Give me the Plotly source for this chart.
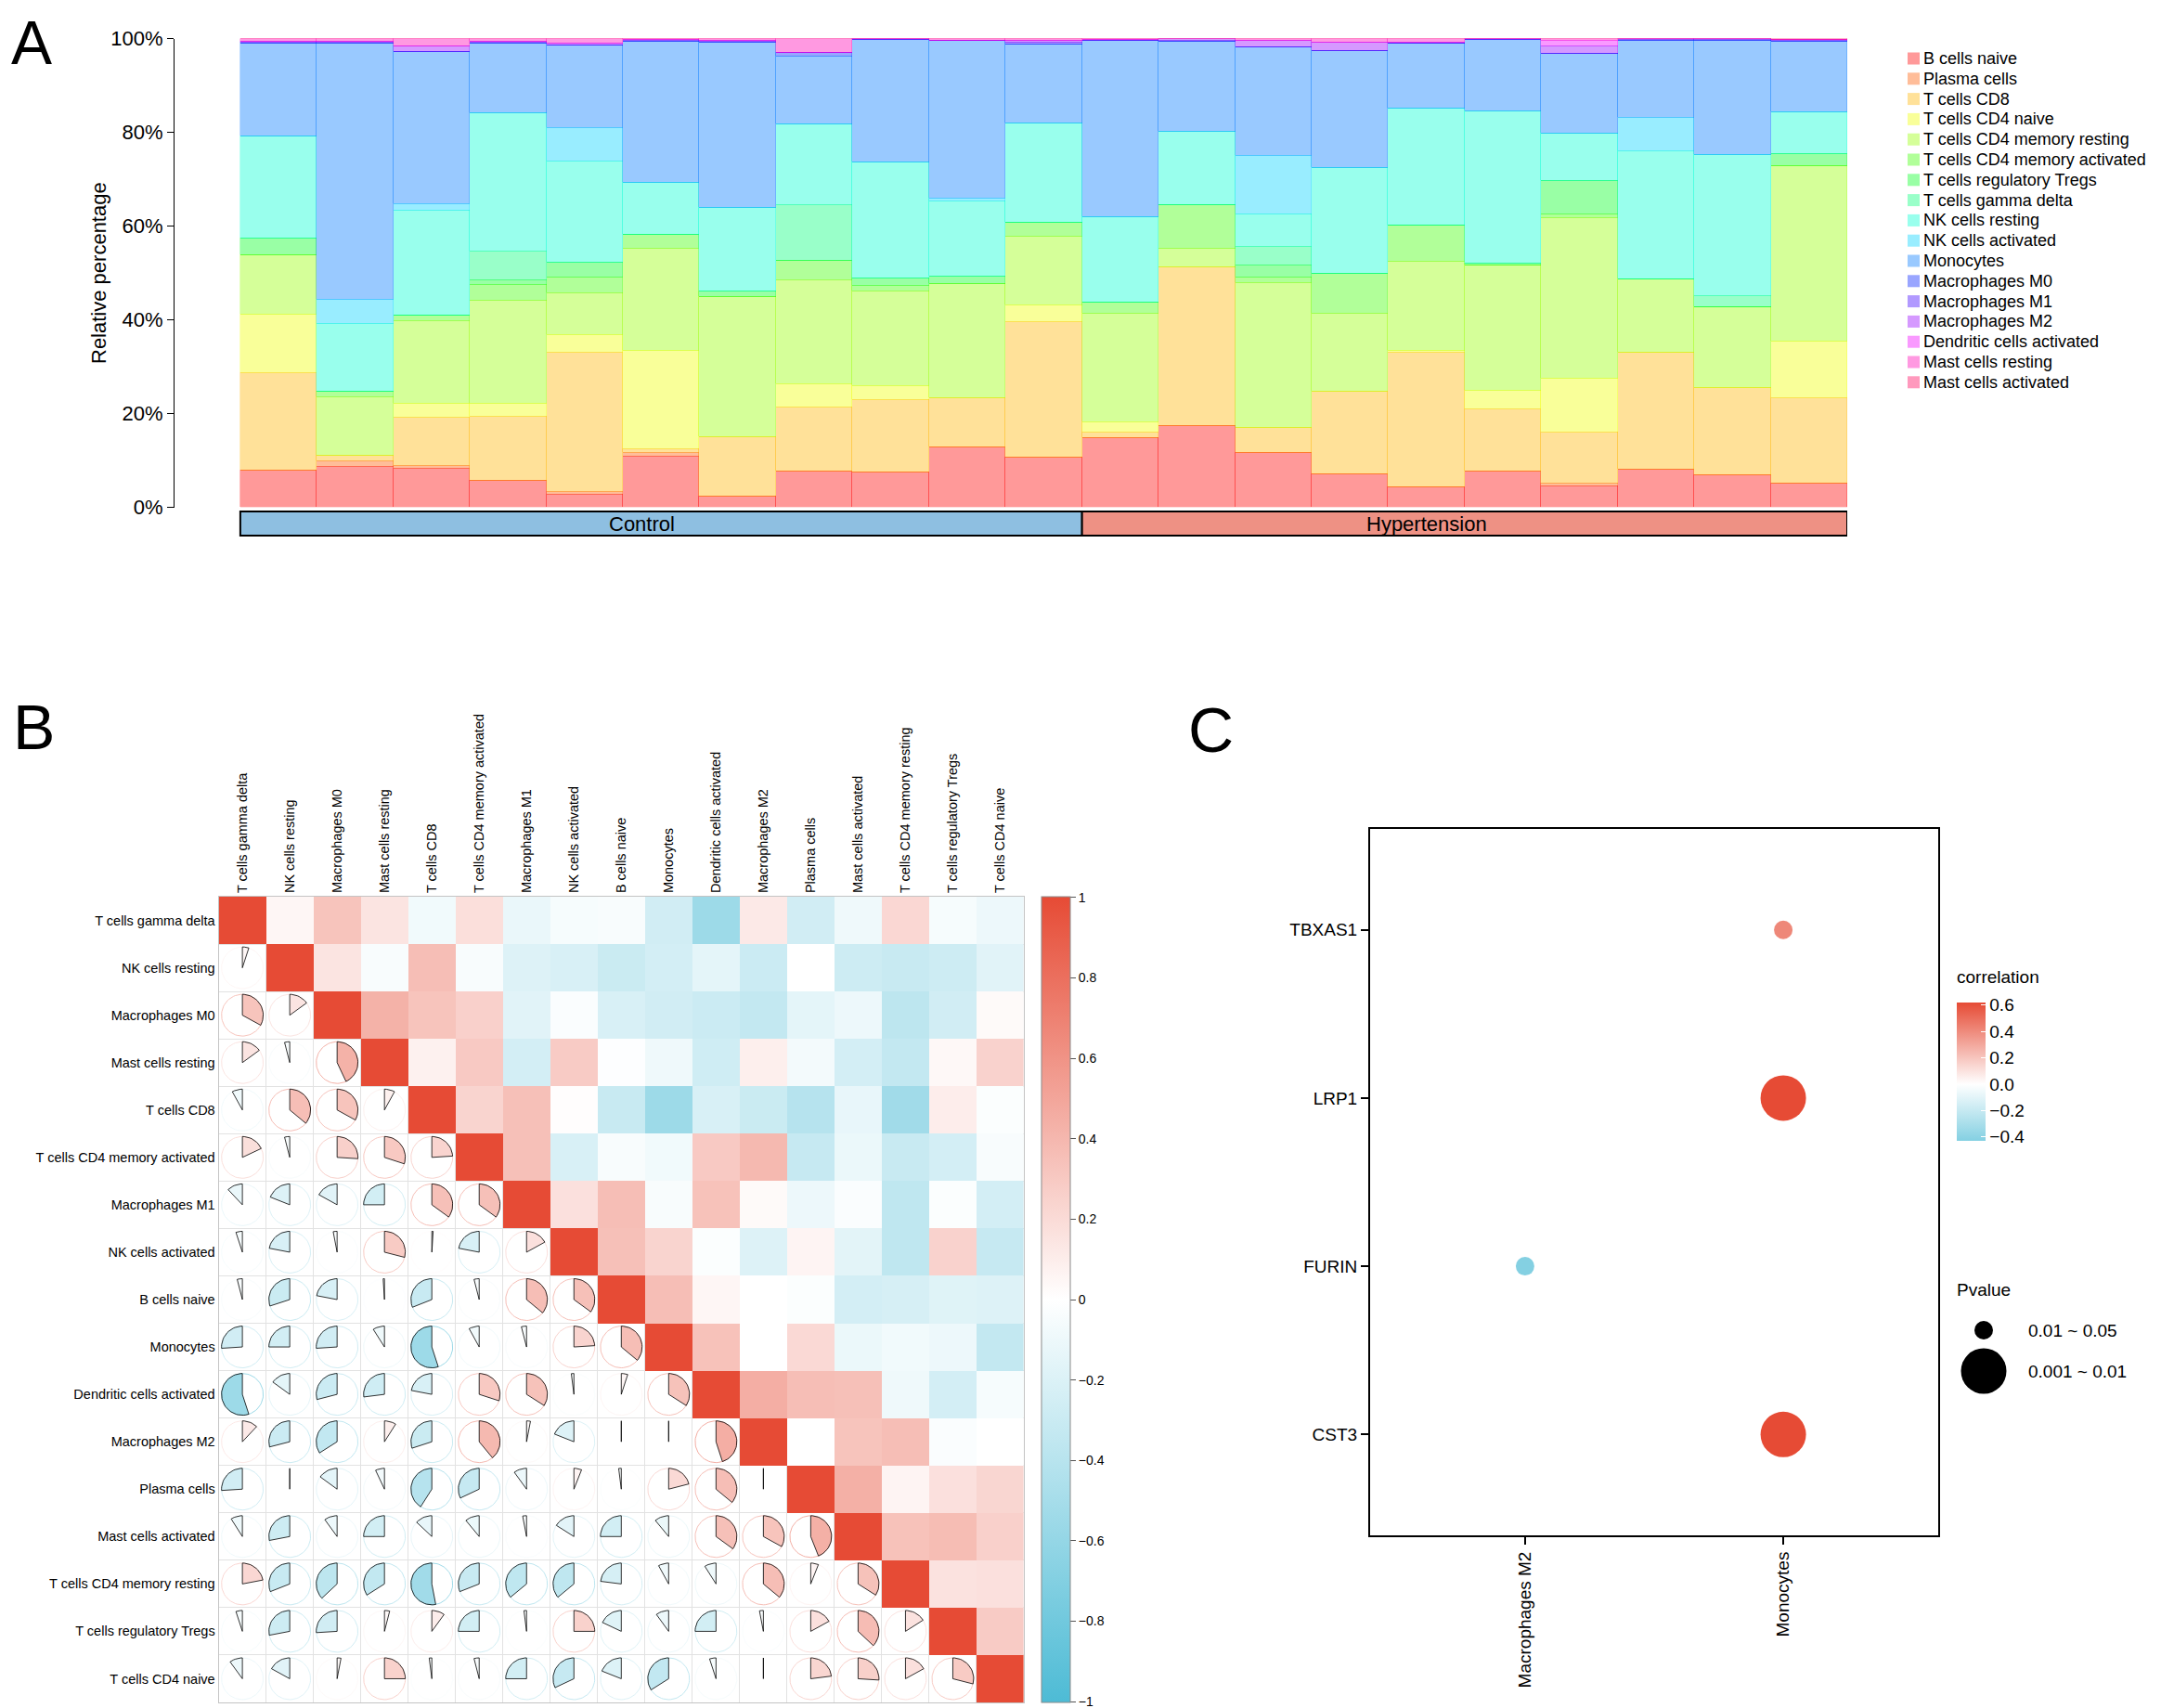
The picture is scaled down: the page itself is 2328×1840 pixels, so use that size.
import math

import plotly.graph_objects as go

# the page puts the figure 8px in from the top-left corner, so the figure is drawn
# 8px smaller and every position below is given in window pixels
OFF = 8
W, H = 2328 - OFF, 1840 - OFF
FONT = "Liberation Sans, Arial, sans-serif"
RED = "#E64B35"
BLUE = "#4DBBD5"

# ---------------- panel A: immune cell fractions per sample (%) ----------------
samples = ["C1", "C2", "C3", "C4", "C5", "C6", "C7", "C8", "C9", "C10", "C11",
           "H1", "H2", "H3", "H4", "H5", "H6", "H7", "H8", "H9", "H10"]
groups = ["Control"] * 11 + ["Hypertension"] * 10
group_colors = {"Control": "#8EBFE1", "Hypertension": "#EE9184"}
group_label_x = {"Control": 691, "Hypertension": 1537}

cell_types = ["B cells naive", "Plasma cells", "T cells CD8", "T cells CD4 naive",
              "T cells CD4 memory resting", "T cells CD4 memory activated",
              "T cells regulatory Tregs", "T cells gamma delta", "NK cells resting",
              "NK cells activated", "Monocytes", "Macrophages M0", "Macrophages M1",
              "Macrophages M2", "Dendritic cells activated", "Mast cells resting",
              "Mast cells activated"]
cell_colors = ["#FF9999", "#FFBD99", "#FFE199", "#F9FF99", "#D5FF99", "#B1FF99",
               "#99FFA5", "#99FFC9", "#99FFED", "#99EDFF", "#99C9FF", "#99A5FF",
               "#B199FF", "#D599FF", "#F999FF", "#FF99E1", "#FF99BD"]

b_cells_naive = [7.9, 8.7, 8.4, 5.7, 2.7, 10.9, 2.3, 7.7, 7.6, 12.8, 10.7,
                 14.9, 17.4, 11.6, 7.2, 4.4, 7.8, 4.6, 8.2, 6.9, 5.2]
plasma_cells = [0, 1.2, 0.5, 0, 0.6, 0.8, 0, 0, 0, 0, 0,
                0, 0, 0, 0, 0, 0, 0.6, 0, 0, 0]
t_cells_cd8 = [20.9, 1.2, 10.3, 13.8, 29.7, 0.7, 12.8, 13.6, 15.4, 10.5, 28.9,
               1.2, 33.8, 5.5, 17.6, 28.6, 13.2, 10.9, 24.9, 18.7, 18.1]
t_cd4_naive = [12.4, 0, 3.0, 2.6, 3.8, 21.1, 0, 5.1, 3.0, 0, 3.6,
               2.2, 0, 0, 0, 0.5, 4.0, 11.4, 0, 0, 12.2]
t_cd4_mem_resting = [12.7, 12.5, 17.7, 22.1, 8.9, 21.7, 29.8, 22.1, 20.2, 24.4, 14.6,
                     23.1, 4.1, 30.8, 16.6, 19.0, 26.7, 34.3, 15.6, 17.1, 37.5]
t_cd4_mem_activated = [0, 1.2, 1.1, 3.3, 3.4, 3.1, 0, 4.2, 1.2, 0, 3.0,
                       2.4, 9.3, 1.2, 8.6, 7.7, 0, 0.8, 0, 0, 0]
t_tregs = [3.5, 0, 0, 1.0, 3.2, 0, 1.3, 0, 1.5, 1.6, 0,
           0, 0, 2.6, 0, 0, 0.4, 7.1, 0, 0, 2.5]
t_gamma_delta = [0, 0, 0, 6.1, 0, 0, 0, 11.9, 0, 0, 0,
                 0, 0, 3.9, 0, 0, 0, 0, 0, 2.5, 0]
nk_resting = [21.9, 14.4, 22.3, 29.5, 21.5, 11.0, 17.7, 17.1, 24.7, 16.0, 21.1,
              18.1, 15.6, 6.9, 22.4, 24.9, 32.4, 10.1, 27.4, 30.0, 9.0]
nk_activated = [0, 5.1, 1.4, 0, 7.1, 0, 0, 0, 0, 0.6, 0,
                0, 0, 12.5, 0, 0, 0, 0, 7.0, 0, 0]
monocytes = [19.8, 54.8, 32.6, 15.0, 17.8, 30.2, 35.4, 14.5, 26.3, 33.7, 17.0,
             37.7, 19.3, 23.3, 25.1, 14.0, 15.4, 17.1, 16.6, 24.5, 15.1]
macrophages_m0 = [0, 0, 0, 0, 0, 0, 0, 0.8, 0, 0, 0,
                  0, 0, 0, 0, 0, 0, 0, 0, 0, 0]
macrophages_m1 = [0.2, 0.1, 0, 0.2, 0, 0.1, 0.2, 0, 0, 0, 0.3,
                  0, 0.2, 0, 0, 0, 0, 0, 0.1, 0.1, 0.1]
macrophages_m2 = [0.2, 0.2, 1.1, 0.2, 0.3, 0.2, 0.2, 0, 0.1, 0, 0.4,
                  0.2, 0.3, 1.3, 1.8, 0.2, 0.1, 1.5, 0.2, 0.2, 0.3]
dc_activated = [0, 0, 0, 0, 0, 0, 0, 0, 0, 0, 0,
                0, 0, 0, 0, 0, 0, 1.2, 0, 0, 0]
mast_resting = [0.5, 0.6, 1.6, 0.5, 1.0, 0.2, 0.3, 3.0, 0, 0.4, 0.4,
                0.2, 0, 0.4, 0.7, 0.7, 0, 0.4, 0, 0, 0]
mast_activated = [0, 0, 0, 0, 0, 0, 0, 0, 0, 0, 0,
                  0, 0, 0, 0, 0, 0, 0, 0, 0, 0.1]

fractions = [b_cells_naive, plasma_cells, t_cells_cd8, t_cd4_naive, t_cd4_mem_resting,
             t_cd4_mem_activated, t_tregs, t_gamma_delta, nk_resting, nk_activated,
             monocytes, macrophages_m0, macrophages_m1, macrophages_m2, dc_activated,
             mast_resting, mast_activated]
pct_ticks = [0, 20, 40, 60, 80, 100]
pct_labels = ["0%", "20%", "40%", "60%", "80%", "100%"]

# ---------------- panel B: correlation between immune cells ----------------
corr_names = ["T cells gamma delta", "NK cells resting", "Macrophages M0",
              "Mast cells resting", "T cells CD8", "T cells CD4 memory activated",
              "Macrophages M1", "NK cells activated", "B cells naive", "Monocytes",
              "Dendritic cells activated", "Macrophages M2", "Plasma cells",
              "Mast cells activated", "T cells CD4 memory resting",
              "T cells regulatory Tregs", "T cells CD4 naive"]
corr_lower = [
    [],
    [0.05],
    [0.33, 0.15],
    [0.15, -0.04, 0.43],
    [-0.08, 0.36, 0.33, 0.08],
    [0.18, -0.04, 0.26, 0.30, 0.24],
    [-0.12, -0.19, -0.17, -0.25, 0.35, 0.35],
    [-0.05, -0.22, -0.03, 0.29, 0.01, -0.22, 0.17],
    [-0.04, -0.30, -0.22, -0.01, -0.31, -0.04, 0.36, 0.35],
    [-0.26, -0.25, -0.26, -0.09, -0.55, -0.08, -0.04, 0.24, 0.36],
    [-0.55, -0.15, -0.29, -0.27, -0.22, 0.30, 0.34, -0.02, 0.05, 0.34],
    [0.12, -0.29, -0.34, 0.09, -0.30, 0.39, 0.03, -0.19, 0.0, 0.0, 0.45],
    [-0.26, 0.0, -0.15, -0.07, -0.41, -0.32, -0.10, 0.06, -0.02, 0.21, 0.36, 0.0],
    [-0.09, -0.28, -0.10, -0.25, -0.13, -0.11, -0.03, -0.16, -0.25, -0.11, 0.35, 0.33, 0.44],
    [0.22, -0.31, -0.37, -0.34, -0.53, -0.31, -0.36, -0.36, -0.23, -0.08, -0.09, 0.36, 0.06, 0.34],
    [-0.05, -0.28, -0.26, 0.04, 0.10, -0.25, -0.02, 0.25, -0.18, -0.10, -0.25, -0.03, 0.17, 0.37, 0.16],
    [-0.10, -0.17, 0.03, 0.25, -0.02, -0.04, -0.25, -0.32, -0.19, -0.34, -0.05, 0.0, 0.23, 0.26, 0.17, 0.29],
]
corr_ticks = [-1, -0.8, -0.6, -0.4, -0.2, 0, 0.2, 0.4, 0.6, 0.8, 1]

# ---------------- panel C: gene / immune cell correlation ----------------
c_genes = ["CST3", "FURIN", "LRP1", "TBXAS1"]
c_cells = ["Macrophages M2", "Monocytes"]
c_point_gene = ["TBXAS1", "LRP1", "FURIN", "CST3"]
c_point_cell = ["Monocytes", "Monocytes", "Macrophages M2", "Monocytes"]
c_point_cor = [0.41, 0.62, -0.43, 0.62]
c_point_p = ["0.01 ~ 0.05", "0.001 ~ 0.01", "0.01 ~ 0.05", "0.001 ~ 0.01"]
c_ticks = [-0.4, -0.2, 0, 0.2, 0.4, 0.6]
c_tick_labels = ["\u22120.4", "\u22120.2", "0.0", "0.2", "0.4", "0.6"]
p_levels = ["0.01 ~ 0.05", "0.001 ~ 0.01"]
p_sizes = {"0.01 ~ 0.05": 20, "0.001 ~ 0.01": 49}


def px(x):
    return (x - OFF) / W


def py(y):
    return 1 - (y - OFF) / H


def hex_rgb(c):
    return tuple(int(c[k:k + 2], 16) for k in (1, 3, 5))


def blend(c1, c2, t):
    a, b = hex_rgb(c1), hex_rgb(c2)
    return "rgb(%d,%d,%d)" % tuple(round(a[k] + (b[k] - a[k]) * t) for k in range(3))


def corr_color(r):
    return blend("#FFFFFF", RED if r >= 0 else BLUE, min(abs(r), 1.0))


def outline_color(light):
    # fills are 40% opaque rainbow colours on white; outline uses the same hue a bit stronger
    rgb = [max(0, min(255, round((v - 153) / 0.4))) for v in hex_rgb(light)]
    return "rgba(%d,%d,%d,0.45)" % tuple(rgb)


fig = go.Figure()

# ---- A: stacked bars
for name, color, values in zip(cell_types, cell_colors, fractions):
    fig.add_trace(go.Bar(
        x=samples, y=values, name=name, xaxis="x", yaxis="y",
        marker=dict(color=color, line=dict(color=outline_color(color), width=0.6)),
        hoverinfo="skip",
    ))

shapes = []
annotations = []

annotations.append(dict(text="Relative percentage", xref="paper", yref="paper",
                        x=px(107), y=py(294), textangle=-90, showarrow=False,
                        xanchor="center", yanchor="middle", font=dict(size=22, color="black")))

# group strip under the bars
for g in ["Control", "Hypertension"]:
    idx = [k for k, gg in enumerate(groups) if gg == g]
    shapes.append(dict(type="rect", xref="x", yref="paper", x0=idx[0] - 0.5, x1=idx[-1] + 0.5,
                       y0=py(577), y1=py(551), fillcolor=group_colors[g],
                       line=dict(color="black", width=2), layer="above"))
    annotations.append(dict(text=g, xref="paper", yref="paper", x=px(group_label_x[g]), y=py(564),
                            showarrow=False, font=dict(size=22, color="black"),
                            xanchor="center", yanchor="middle"))

# legend of panel A
for k, (name, color) in enumerate(zip(cell_types, cell_colors)):
    yc = 63 + k * 21.8
    shapes.append(dict(type="rect", xref="paper", yref="paper", x0=px(2055), x1=px(2068),
                       y0=py(yc + 6.5), y1=py(yc - 6.5), fillcolor=color, line=dict(width=0)))
    annotations.append(dict(text=name, xref="paper", yref="paper", x=px(2070), y=py(yc),
                            xanchor="left", yanchor="middle", showarrow=False,
                            font=dict(size=18, color="black")))

# ---- B: correlation matrix, upper triangle as tiles, lower triangle as pies
n = len(corr_names)
corr = [[1.0 if i == j else None for j in range(n)] for i in range(n)]
for i, row in enumerate(corr_lower):
    for j, v in enumerate(row):
        corr[i][j] = v
        corr[j][i] = v
upper = [[corr[i][j] if j >= i else None for j in range(n)] for i in range(n)]

fig.add_trace(go.Heatmap(
    z=upper, x=list(range(n)), y=list(range(n)), xaxis="x2", yaxis="y2",
    zmin=-1.002, zmax=1.002, colorscale=[[0, BLUE], [0.5, "#FFFFFF"], [1, RED]],
    hoverinfo="skip",
    colorbar=dict(x=px(1122), xanchor="left", y=py(966), yanchor="top",
                  len=868 / H, lenmode="fraction", thickness=31, thicknessmode="pixels",
                  xpad=0, ypad=0, outlinewidth=1, outlinecolor="#8A8A8A",
                  tickvals=corr_ticks, ticks="outside", ticklen=6, tickcolor="#555555",
                  ticklabeloverflow="allow",
                  tickfont=dict(size=14, color="black")),
))

R = 0.44
for i in range(n):
    for j in range(i):
        r = corr[i][j]
        steps = 72
        ts = [2 * math.pi * k / steps for k in range(steps + 1)]
        fig.add_trace(go.Scatter(
            x=[j + R * math.sin(t) for t in ts], y=[i - R * math.cos(t) for t in ts],
            mode="lines", line=dict(color=corr_color(r), width=1),
            xaxis="x2", yaxis="y2", hoverinfo="skip",
        ))
        sign = 1 if r >= 0 else -1
        m = max(2, int(abs(r) * steps) + 1)
        ws = [2 * math.pi * abs(r) * k / (m - 1) for k in range(m)]
        fig.add_trace(go.Scatter(
            x=[j] + [j + sign * R * math.sin(t) for t in ws] + [j],
            y=[i] + [i - R * math.cos(t) for t in ws] + [i],
            mode="lines", fill="toself", fillcolor=corr_color(r),
            line=dict(color="black", width=0.8),
            xaxis="x2", yaxis="y2", hoverinfo="skip",
        ))

# ---- C: bubble plot
c_min, c_max = min(c_point_cor), max(c_point_cor)
c_lim = max(abs(c_min), abs(c_max))
c_zero = -c_min / (c_max - c_min)
c_scale = [[0, blend("#FFFFFF", BLUE, -c_min / c_lim)], [c_zero, "#FFFFFF"],
           [1, blend("#FFFFFF", RED, c_max / c_lim)]]

fig.add_trace(go.Scatter(
    x=c_point_cell, y=c_point_gene, mode="markers", xaxis="x3", yaxis="y3",
    marker=dict(size=[p_sizes[p] for p in c_point_p], color=c_point_cor,
                colorscale=c_scale, cmin=c_min, cmax=c_max, opacity=1,
                line=dict(width=0),
                colorbar=dict(x=px(2108), xanchor="left", y=py(1080), yanchor="top",
                              len=149 / H, lenmode="fraction", thickness=31,
                              thicknessmode="pixels", xpad=0, ypad=0, outlinewidth=0,
                              tickvals=c_ticks, ticktext=c_tick_labels,
                              ticks="inside", ticklen=5, tickcolor="white",
                              tickfont=dict(size=19, color="black"))),
    hoverinfo="skip",
))

# legend titles and size legend for panel C
for title, yc in [("correlation", 1052), ("Pvalue", 1389)]:
    annotations.append(dict(text=title, xref="paper", yref="paper", x=px(2106), y=py(yc),
                            xanchor="left", yanchor="middle", showarrow=False,
                            font=dict(size=19, color="black")))
for k, lev in enumerate(p_levels):
    yc = 1433 + k * 44
    d = p_sizes[lev]
    shapes.append(dict(type="circle", xref="paper", yref="paper",
                       x0=px(2137 - d / 2), x1=px(2137 + d / 2), y0=py(yc + d / 2), y1=py(yc - d / 2),
                       fillcolor="black", line=dict(width=0)))
    annotations.append(dict(text=lev, xref="paper", yref="paper", x=px(2183), y=py(yc),
                            xanchor="left", yanchor="middle", showarrow=False,
                            font=dict(size=19, color="black")))

# panel letters
annotations.append(dict(text="A", xref="paper", yref="paper", x=px(34), y=1,
                        xanchor="center", yanchor="top", showarrow=False, borderpad=0,
                        font=dict(size=66, color="black")))
for letter, xc, yc in [("B", 36, 783), ("C", 1304, 786)]:
    annotations.append(dict(text=letter, xref="paper", yref="paper", x=px(xc), y=py(yc),
                            xanchor="center", yanchor="middle", showarrow=False,
                            font=dict(size=68, color="black")))

fig.update_layout(
    width=W, height=H, autosize=False,
    margin=dict(l=0, r=0, t=0, b=0, pad=0),
    paper_bgcolor="white", plot_bgcolor="white",
    font=dict(family=FONT, color="black"),
    showlegend=False,
    barmode="stack", barnorm="percent", bargap=0,
    xaxis=dict(domain=[px(188), px(1990)], anchor="y", type="category",
               categoryorder="array", categoryarray=samples, automargin=False,
               range=[-1.36, len(samples) - 0.5], visible=False),
    yaxis=dict(domain=[py(546.5), py(41.5)], anchor="x", range=[0, 100], automargin=False,
               tickmode="array", tickvals=pct_ticks, ticktext=pct_labels,
               ticks="outside", ticklen=7, tickwidth=1.2, tickcolor="black",
               showline=True, linecolor="black", linewidth=1.2,
               showgrid=False, zeroline=False, tickfont=dict(size=22)),
    xaxis2=dict(domain=[px(235.6), px(1103)], anchor="y2", range=[-0.5, n - 0.5],
                side="top", tickmode="array", tickvals=list(range(n)), ticktext=corr_names,
                tickangle=-90, tickfont=dict(size=14.5), showgrid=False, zeroline=False,
                showline=True, mirror=True, linecolor="#C4C4C4", linewidth=1, ticks="",
                automargin=False,
                minor=dict(tickmode="linear", tick0=0.5, dtick=1, showgrid=True,
                           gridcolor="#E2E2E2", gridwidth=1)),
    yaxis2=dict(domain=[py(1834), py(966)], anchor="x2", range=[n - 0.5, -0.5],
                tickmode="array", tickvals=list(range(n)), ticktext=corr_names,
                tickfont=dict(size=14.5), showgrid=False, zeroline=False,
                showline=True, mirror=True, linecolor="#C4C4C4", linewidth=1, ticks="",
                automargin=False,
                minor=dict(tickmode="linear", tick0=0.5, dtick=1, showgrid=True,
                           gridcolor="#E2E2E2", gridwidth=1)),
    xaxis3=dict(domain=[px(1476), px(2088)], anchor="y3", type="category",
                categoryorder="array", categoryarray=c_cells, range=[-0.6, len(c_cells) - 0.4],
                tickangle=-90, tickfont=dict(size=19), ticks="outside", ticklen=8,
                tickwidth=1.5, tickcolor="black", showline=True, mirror=True,
                linecolor="black", linewidth=2, showgrid=False, zeroline=False,
                automargin=False),
    yaxis3=dict(domain=[py(1654), py(893)], anchor="x3", type="category",
                categoryorder="array", categoryarray=c_genes, range=[-0.6, len(c_genes) - 0.4],
                tickfont=dict(size=19), ticks="outside", ticklen=8,
                tickwidth=1.5, tickcolor="black", showline=True, mirror=True,
                linecolor="black", linewidth=2, showgrid=False, zeroline=False,
                automargin=False),
    shapes=shapes,
    annotations=annotations,
)

fig.write_html("out.html")
